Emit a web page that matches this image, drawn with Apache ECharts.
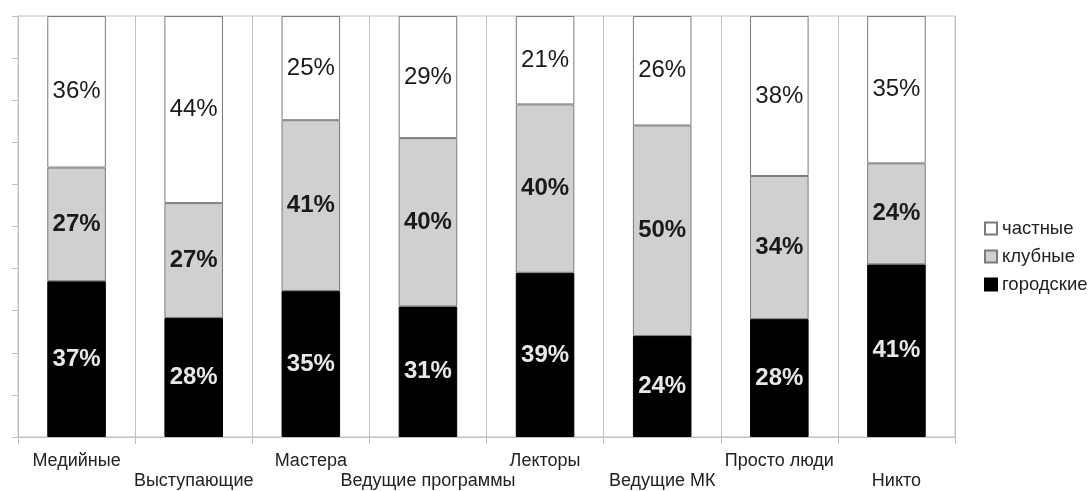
<!DOCTYPE html>
<html>
<head>
<meta charset="utf-8">
<script src="https://cdn.jsdelivr.net/npm/echarts@6/dist/echarts.min.js"></script>
<style>
html,body{margin:0;padding:0;background:#fff;}
#c{width:1092px;height:491px;}
</style>
</head>
<body>
<div id="c"></div>
<script>
var categories = ['Медийные','Выступающие','Мастера','Ведущие программы','Лекторы','Ведущие МК','Просто люди','Никто'];
var gorodskie = [37,28,35,31,39,24,28,41];
var klubnye   = [27,27,41,40,40,50,34,24];
var chastnye  = [36,44,25,29,21,26,38,35];

function share(arr, i){
  var s = gorodskie[i] + klubnye[i] + chastnye[i];
  return arr[i] / s * 100;
}
function mk(arr){
  return arr.map(function(v,i){ return {value: share(arr,i), raw: v}; });
}
var FONT = '"Liberation Sans", Arial, sans-serif';
var chart = echarts.init(document.getElementById('c'));
chart.setOption({
  animation:false,
  backgroundColor:'#fff',
  textStyle:{fontFamily:FONT},
  grid:{left:18,right:137,top:16,bottom:54,show:true,borderColor:'#c0c0c0',borderWidth:1},
  legend:{
    orient:'vertical', left:979, top:214, itemWidth:12, itemHeight:12, itemGap:9,
    icon:'rect',
    data:['частные','клубные','городские'],
    textStyle:{fontFamily:FONT,fontSize:18.5,color:'#222'}
  },
  xAxis:{
    type:'category', data:categories, boundaryGap:true,
    axisLine:{lineStyle:{color:'#c0c0c0'}},
    axisTick:{show:true,length:7,lineStyle:{color:'#c0c0c0'}},
    splitLine:{show:true,lineStyle:{color:'#c0c0c0'}},
    axisLabel:{interval:0, margin:14, fontSize:18, lineHeight:20, color:'#222', fontFamily:FONT,
      formatter:function(v,i){ return i%2 ? '\n'+v : v; }}
  },
  yAxis:{
    type:'value', min:0, max:100, interval:10,
    axisLine:{show:true,lineStyle:{color:'#c0c0c0'}},
    axisTick:{show:true,length:6,lineStyle:{color:'#c0c0c0'}},
    axisLabel:{show:false},
    splitLine:{show:false}
  },
  series:[
    {name:'городские', type:'bar', stack:'a', barWidth:'50%', data:mk(gorodskie),
     itemStyle:{color:'#000',borderColor:'#000',borderWidth:1},
     label:{show:true,position:'inside',fontSize:24,fontWeight:'bold',color:'#e8e8e8',fontFamily:FONT,
       formatter:function(p){return p.data.raw+'%';}}},
    {name:'клубные', type:'bar', stack:'a', barWidth:'50%', data:mk(klubnye),
     itemStyle:{color:'#d0d0d0',borderColor:'#7a7a7a',borderWidth:1},
     label:{show:true,position:'inside',fontSize:24,fontWeight:'bold',color:'#1a1a1a',fontFamily:FONT,
       formatter:function(p){return p.data.raw+'%';}}},
    {name:'частные', type:'bar', stack:'a', barWidth:'50%', data:mk(chastnye),
     itemStyle:{color:'#fff',borderColor:'#7a7a7a',borderWidth:1},
     label:{show:true,position:'inside',fontSize:24,color:'#1a1a1a',fontFamily:FONT,
       formatter:function(p){return p.data.raw+'%';}}}
  ]
});
</script>
</body>
</html>
